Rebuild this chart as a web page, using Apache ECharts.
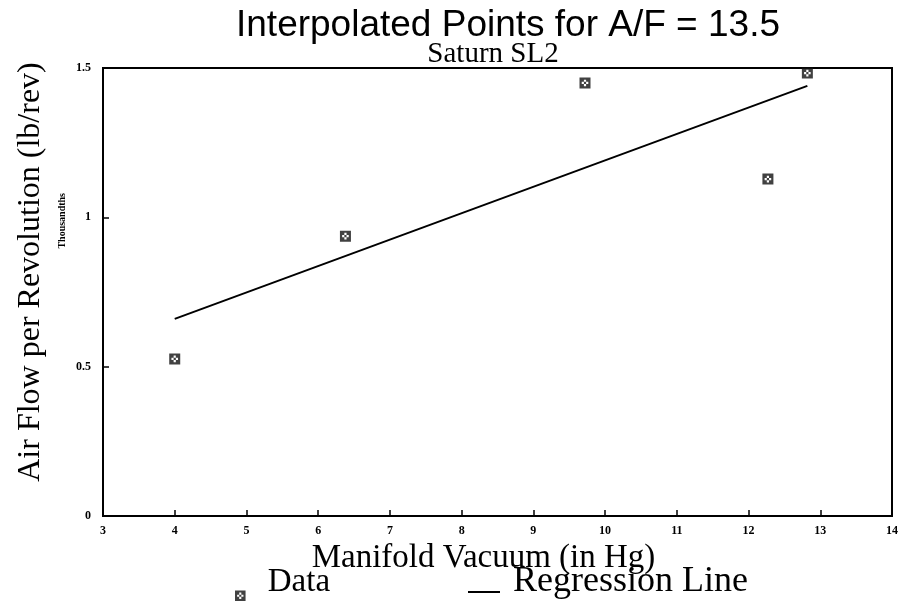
<!DOCTYPE html>
<html>
<head>
<meta charset="utf-8">
<script src="https://cdn.jsdelivr.net/npm/echarts@6/dist/echarts.min.js"></script>
<style>html,body{margin:0;padding:0;background:#fff}#c{width:915px;height:605px}</style>
</head>
<body>
<div id="c"></div>
<script>
const titleText = 'Interpolated Points for A/F = 13.5';
const subtitleText = 'Saturn SL2';
const xName = 'Manifold Vacuum (in Hg)';
const yName = 'Air Flow per Revolution (lb/rev)';
const yUnit = 'Thousandths';
const dataX = [4.0, 6.38, 9.72, 12.27, 12.82];
const dataY = [0.526, 0.937, 1.45, 1.128, 1.483];
const regX = [4.0, 12.82];
const regY = [0.66, 1.44];
const xTicks = [3, 4, 5, 6, 7, 8, 9, 10, 11, 12, 13, 14];
const yTicks = [0, 0.5, 1, 1.5];

const marker = 'path://M0,0 H10 V10 H0 Z M4,2 V4 H6 V2 Z M2,4 V6 H4 V4 Z M6,4 V6 H8 V4 Z M4,6 V8 H6 V6 Z';
// legend icons: a near-invisible speck at the top pushes the visible mark down toward the baseline
const legendMarker = 'path://M0,0 H0.02 V0.02 H0 Z M0,26 H10 V36 H0 Z M4,28 V30 H6 V28 Z M2,30 V32 H4 V30 Z M6,30 V32 H8 V30 Z M4,32 V34 H6 V32 Z';
const legendLine = 'path://M0,0 H0.02 V0.02 H0 Z M0,20 H32 V22 H0 Z';
const serif = '"Liberation Serif", "DejaVu Serif", serif';

const chart = echarts.init(document.getElementById('c'));
chart.setOption({
  backgroundColor: '#fff',
  animation: false,
  title: [
    { text: titleText, left: 503, textAlign: 'center', top: 2, textStyle: { fontFamily: '"Liberation Sans", Arial, sans-serif', fontWeight: 'normal', fontSize: 37, color: '#000' } },
    { text: subtitleText, left: 488, textAlign: 'center', top: 35, textStyle: { fontFamily: serif, fontWeight: 'normal', fontSize: 29, color: '#000' } }
  ],
  grid: { left: 103, right: 23, top: 68, bottom: 89, show: true, borderColor: '#000', borderWidth: 2 },
  xAxis: {
    type: 'value', min: xTicks[0], max: xTicks[xTicks.length - 1], interval: 1,
    name: xName, nameLocation: 'middle', nameGap: 9,
    nameTextStyle: { fontFamily: serif, fontSize: 33, color: '#000', padding: [0, 28, 0, 0] },
    axisLine: { lineStyle: { color: '#000', width: 2 } },
    axisTick: { inside: true, length: 6, lineStyle: { color: '#000', width: 1.5 } },
    axisLabel: { fontFamily: serif, fontWeight: 'bold', fontSize: 12, color: '#000', margin: 9 },
    splitLine: { show: false }
  },
  yAxis: {
    type: 'value', min: yTicks[0], max: yTicks[yTicks.length - 1], interval: 0.5,
    name: yName, nameLocation: 'middle', nameGap: 56,
    nameTextStyle: { fontFamily: serif, fontSize: 32, color: '#000', padding: [0, 0, 0, 40] },
    axisLine: { lineStyle: { color: '#000', width: 2 } },
    axisTick: { inside: true, length: 6, lineStyle: { color: '#000', width: 1.5 } },
    axisLabel: { fontFamily: serif, fontWeight: 'bold', fontSize: 12, color: '#000', margin: 12 },
    splitLine: { show: false }
  },
  legend: [
    { data: [{ name: 'Data', icon: legendMarker }], left: 230, top: 558, itemWidth: 11, itemHeight: 38, itemGap: 10,
      textStyle: { fontFamily: serif, fontSize: 33, color: '#000', padding: [0, 0, 0, 17] } },
    { data: [{ name: 'Regression Line', icon: legendLine }], left: 463, top: 559, itemWidth: 32, itemHeight: 24,
      textStyle: { fontFamily: serif, fontSize: 36, color: '#000', padding: [0, 0, 0, 8] } }
  ],
  graphic: [
    { type: 'text', left: 57, top: 193, rotation: Math.PI / 2,
      style: { text: yUnit, font: 'bold 10px ' + serif, fill: '#000' } }
  ],
  series: [
    { name: 'Data', type: 'scatter', symbol: marker, symbolSize: 11,
      itemStyle: { color: '#111' }, data: dataX.map((x, i) => [x, dataY[i]]) },
    { name: 'Regression Line', type: 'line', symbol: 'none', lineStyle: { color: '#000', width: 2 },
      itemStyle: { color: '#000' }, data: regX.map((x, i) => [x, regY[i]]) }
  ]
});
</script>
</body>
</html>
